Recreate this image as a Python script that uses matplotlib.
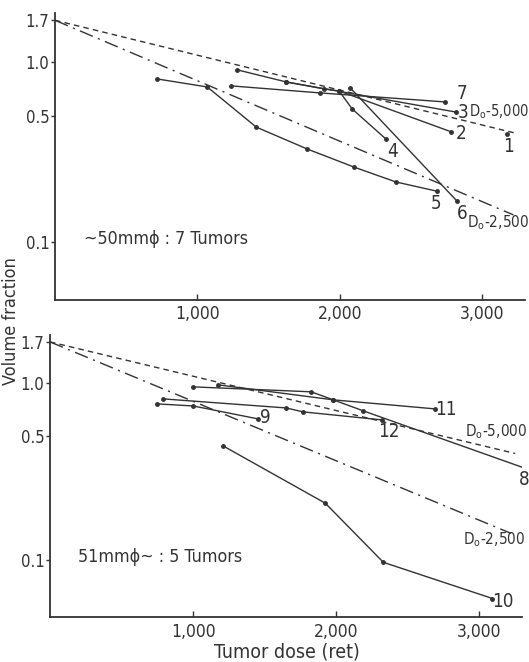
import matplotlib
matplotlib.use('Agg')
import matplotlib.pyplot as plt
import numpy as np

plt.rcParams['font.family'] = ['DejaVu Sans']
plt.rcParams['font.stretch'] = 'condensed'
plt.rcParams['font.size'] = 12
plt.rcParams['mathtext.fontset'] = 'custom'

ink = '#333333'

# reference lines (both panels): dose, volume fraction
d0_5000_dose = [0, 3250]
d0_5000_vf = [1.7, 0.40]
d0_2500_dose = [0, 3220]
d0_2500_vf = [1.7, 0.142]

# upper panel: ~50mm tumors
s1_dose = [3175]
s1_vf = [0.40]
s2_dose = [1996, 2782]
s2_vf = [0.69, 0.41]
s3_dose = [1625, 2818]
s3_vf = [0.774, 0.527]
s4_dose = [1281, 1625, 1891, 1996, 2088, 2326]
s4_vf = [0.903, 0.774, 0.708, 0.690, 0.548, 0.373]
s5_dose = [719, 1070, 1414, 1772, 2102, 2396, 2684]
s5_vf = [0.804, 0.726, 0.435, 0.329, 0.261, 0.216, 0.192]
s6_dose = [2074, 2825]
s6_vf = [0.717, 0.169]
s7_dose = [1239, 1863, 2740]
s7_vf = [0.736, 0.673, 0.600]

# lower panel: 51mm~ tumors
s8_dose = [1000, 1825, 1979, 2189, 3315]
s8_vf = [0.949, 0.890, 0.802, 0.695, 0.331]
s9_dose = [748, 1000, 1455]
s9_vf = [0.761, 0.741, 0.626]
s10_dose = [1210, 1923, 2329, 3091]
s10_vf = [0.441, 0.210, 0.0975, 0.061]
s11_dose = [1175, 1979, 2692]
s11_vf = [0.974, 0.802, 0.713]
s12_dose = [790, 1650, 1769, 2322]
s12_vf = [0.812, 0.722, 0.686, 0.618]

top_series = [(s1_dose, s1_vf), (s2_dose, s2_vf), (s3_dose, s3_vf), (s4_dose, s4_vf),
              (s5_dose, s5_vf), (s6_dose, s6_vf), (s7_dose, s7_vf)]
bot_series = [(s8_dose, s8_vf), (s9_dose, s9_vf), (s10_dose, s10_vf),
              (s11_dose, s11_vf), (s12_dose, s12_vf)]

top_labels = [('1', 3185, 0.34), ('2', 2850, 0.40), ('3', 2870, 0.527), ('4', 2370, 0.32),
              ('5', 2677, 0.165), ('6', 2860, 0.145), ('7', 2860, 0.664)]
bot_labels = [('8', 3315, 0.287), ('9', 1503, 0.634), ('10', 3161, 0.059),
              ('11', 2769, 0.704), ('12', 2364, 0.529)]

xticks = [1000, 2000, 3000]
xticklabels = ['1,000', '2,000', '3,000']
yticks = [1.7, 1.0, 0.5, 0.1]
yticklabels = ['1.7', '1.0', '0.5', '0.1']

fig = plt.figure(figsize=(5.29, 6.62), dpi=100)
ax1 = fig.add_axes([0.104, 0.547, 0.888, 0.433])
ax2 = fig.add_axes([0.0945, 0.068, 0.893, 0.426])


def setup(ax):
    ax.set_yscale('log')
    ax.set_xlim(0, 3300)
    ax.set_ylim(0.048, 1.86)
    ax.spines['top'].set_visible(False)
    ax.spines['right'].set_visible(False)
    for s in ['left', 'bottom']:
        ax.spines[s].set_linewidth(1.3)
        ax.spines[s].set_color(ink)
    ax.set_xticks(xticks)
    ax.set_xticklabels(xticklabels)
    ax.set_yticks(yticks)
    ax.set_yticklabels(yticklabels)
    ax.minorticks_off()
    ax.tick_params(axis='x', labelsize=12.5, direction='in', length=4, width=1, colors=ink, pad=4)
    ax.tick_params(axis='y', labelsize=12, direction='out', length=3, width=1, colors=ink, pad=1)
    ax.plot(d0_5000_dose, d0_5000_vf, color=ink, lw=1, ls=(0, (4, 3)))
    ax.plot(d0_2500_dose, d0_2500_vf, color=ink, lw=1, ls=(0, (10, 4, 1.5, 4)))


setup(ax1)
setup(ax2)

for d, v in top_series:
    ax1.plot(d, v, color=ink, lw=1, marker='o', ms=2.5)
for d, v in bot_series:
    ax2.plot(d, v, color=ink, lw=1, marker='o', ms=2.5)

for t, x, y in top_labels:
    ax1.text(x, y, t, ha='center', va='center', color=ink, fontsize=13.5)
for t, x, y in bot_labels:
    ax2.text(x, y, t, ha='center', va='center', color=ink, fontsize=13.5)

ax1.text(2910, 0.527, 'D$_\\mathregular{o}$-5,000', ha='left', va='center', color=ink, fontsize=10.5)
ax1.text(2895, 0.129, 'D$_\\mathregular{o}$-2,500', ha='left', va='center', color=ink, fontsize=11)
ax2.text(2902, 0.529, 'D$_\\mathregular{o}$-5,000', ha='left', va='center', color=ink, fontsize=11)
ax2.text(2888, 0.131, 'D$_\\mathregular{o}$-2,500', ha='left', va='center', color=ink, fontsize=11)

ax1.text(207, 0.104, '~50mmϕ : 7 Tumors', ha='left', va='center', color=ink, fontsize=12.8)
ax2.text(196, 0.104, '51mmϕ~ : 5 Tumors', ha='left', va='center', color=ink, fontsize=12.8)

fig.text(0.021, 0.515, 'Volume fraction', rotation=90, ha='center', va='center', color=ink, fontsize=13)
fig.text(0.543, 0.015, 'Tumor dose (ret)', ha='center', va='center', color=ink, fontsize=14)

fig.savefig('out.png', dpi=100)
